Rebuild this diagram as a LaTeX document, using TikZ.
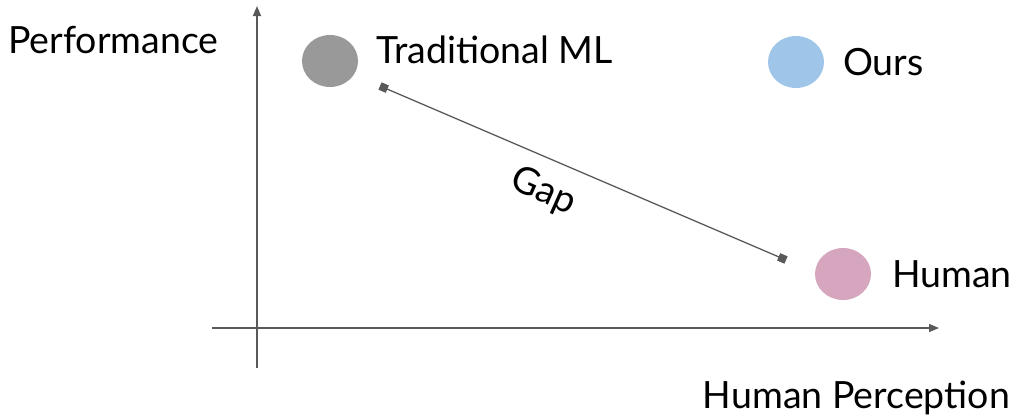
\documentclass[tikz,border=0pt]{standalone}
\usepackage{fontspec}
\setmainfont{Lato}
\usetikzlibrary{arrows.meta,shapes.geometric}
\definecolor{axisgray}{HTML}{595959}
\definecolor{mlgray}{HTML}{999999}
\definecolor{oursblue}{HTML}{9FC5E8}
\definecolor{humanpink}{HTML}{D5A6BD}
\begin{document}
\begin{tikzpicture}[x=1pt,y=-1pt,
  axis/.style={draw=axisgray, line width=1.3pt, -{Triangle[length=10pt,width=8pt]}},
  dot/.style={ellipse, minimum width=56pt, minimum height=52pt, inner sep=0pt},
  lbl/.style={font=\fontsize{37.5}{40}\selectfont, inner sep=0pt, text=black},
  gapline/.style={draw=axisgray, line width=1.3pt, {Square[length=8pt,width=8pt]}-{Square[length=8pt,width=8pt]}}]
\useasboundingbox (0,0) rectangle (1015,416);
\coordinate (ybot) at (257,368);
\coordinate (ytop) at (257,6);
\coordinate (xl) at (212,328);
\coordinate (xr) at (939,328);
\draw[axis] (ybot) -- (ytop);
\draw[axis] (xl) -- (xr);
\node[dot, fill=mlgray] (ml) at (330,61) {};
\node[dot, fill=oursblue] (ours) at (796,62) {};
\node[dot, fill=humanpink] (human) at (843,274) {};
\node[lbl, anchor=west] (mllbl) at (376,50) {Traditional ML};
\node[lbl, anchor=west] (ourslbl) at (843,62) {Ours};
\node[lbl, anchor=west] (humanlbl) at (892,274) {Human};
\node[lbl, anchor=west] (perf) at (8,40) {Performance};
\node[lbl, anchor=east] (hp) at (1010,398) {Human Perception};
\coordinate (g1) at (380,86);
\coordinate (g2) at (786,260);
\draw[gapline] (g1) -- (g2);
\node[lbl, rotate=-24] (gap) at (543,192) {Gap};
\end{tikzpicture}
\end{document}
